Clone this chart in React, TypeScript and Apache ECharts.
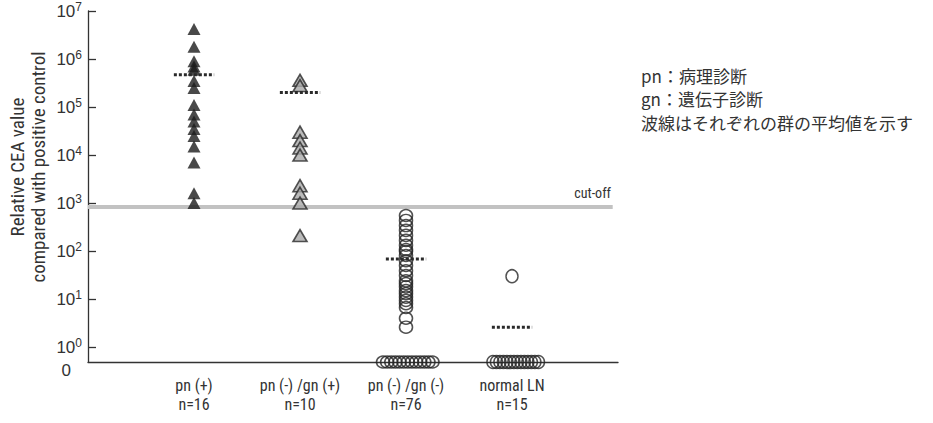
import React, { useEffect, useRef } from "react";
import * as echarts from "echarts";

// ---- data ----
const categories = ["pn (+)", "pn (-) /gn (+)", "pn (-) /gn (-)", "normal LN"];
const counts = ["n=16", "n=10", "n=76", "n=15"];

const pnPos = [4.2e6, 1.8e6, 9e5, 7e5, 6e5, 3.5e5, 2.5e5, 1.1e5, 7e4, 5e4, 3.5e4, 2.5e4, 1.5e4, 7e3, 1.6e3, 1.0e3];
const pnNegGnPos = [3.6e5, 2.8e5, 3e4, 2e4, 1.4e4, 1e4, 2.3e3, 1.6e3, 1.0e3, 2.1e2];
const pnNegGnNeg = [550, 435, 340, 270, 212, 167, 132, 108, 98, 81, 63, 50, 39, 31, 24, 21, 18, 15, 13, 11, 9.4, 8, 6.7, 4, 2.6];
const pnNegGnNegZeroJitter = [-0.217, -0.178, -0.139, -0.1, -0.061, -0.022, 0.017, 0.056, 0.095, 0.134, 0.173, 0.212, 0.25];
const normalLN = [30];
const normalLNZeroJitter = [-0.18, -0.147, -0.114, -0.081, -0.048, -0.015, 0.018, 0.051, 0.084, 0.117, 0.15, 0.183, 0.216, 0.25];
const groupMeans = [4.7e5, 2.0e5, 68, 2.6];
const cutOff = 830;
const yTickExponents = [0, 1, 2, 3, 4, 5, 6, 7];
const notes = ["pn：病理診断", "gn：遺伝子診断", "波線はそれぞれの群の平均値を示す"];

const ZERO_POS = -0.31; // where value 0 sits on the log scale
const toLog = (v: number) => (v > 0 ? Math.log10(v) : ZERO_POS);
const NARROW = "'Liberation Sans Narrow', 'Roboto Condensed', 'DejaVu Sans Condensed', 'Liberation Sans', sans-serif";
const SANS = "'Liberation Sans', Arial, sans-serif";
const CJK = "'Noto Sans CJK JP', sans-serif";

export default function App() {
  const ref = useRef<HTMLDivElement>(null);
  useEffect(() => {
    if (!ref.current) return;
    const chart = echarts.init(ref.current, undefined, { renderer: "svg" });
    const circleStyle = { color: "rgba(0,0,0,0)", borderColor: "#262626", borderWidth: 1.5 };
    const option: any = {
      animation: false,
      backgroundColor: "#fff",
      grid: { left: 88, right: 315, top: 11, bottom: 61 },
      xAxis: {
        type: "value",
        min: 0,
        max: 5,
        axisLine: { show: true, onZero: false, lineStyle: { color: "#333", width: 1.3 } },
        axisTick: { show: false },
        splitLine: { show: false },
        axisLabel: {
          customValues: [1, 2, 3, 4],
          formatter: (v: number) => `${categories[Math.round(v) - 1]}\n${counts[Math.round(v) - 1]}`,
          fontFamily: NARROW,
          fontSize: 16,
          lineHeight: 19,
          color: "#333",
          margin: 14,
        },
      },
      yAxis: {
        type: "value",
        min: ZERO_POS,
        max: 7,
        axisLine: { show: true, onZero: false, lineStyle: { color: "#333", width: 1.3 } },
        axisTick: { show: true, inside: true, length: 8, customValues: yTickExponents, lineStyle: { color: "#333", width: 1.3 } },
        splitLine: { show: false },
        axisLabel: {
          customValues: [ZERO_POS, ...yTickExponents],
          margin: 6,
          formatter: (v: number) => (v < -0.1 ? "{z|0}" : `{b|10}{s|${Math.round(v)}}`),
          rich: {
            b: { fontFamily: SANS, fontSize: 17, color: "#333", lineHeight: 21 },
            s: { fontFamily: SANS, fontSize: 12, color: "#333", lineHeight: 12, verticalAlign: "top" },
            z: { fontFamily: SANS, fontSize: 17, color: "#333", padding: [16, 11, 0, 0] },
          },
        },
      },
      series: [
        {
          type: "line",
          data: [[0, toLog(cutOff)], [4.95, toLog(cutOff)]],
          symbol: "none",
          lineStyle: { color: "#c2c2c2", width: 4 },
          z: 1,
          silent: true,
        },
        {
          type: "scatter",
          data: pnPos.map((v) => [1, toLog(v)]),
          symbol: "triangle",
          symbolSize: [13, 12],
          itemStyle: { color: "#1c1c1c" },
          z: 3,
        },
        {
          type: "scatter",
          data: pnNegGnPos.map((v) => [2, toLog(v)]),
          symbol: "triangle",
          symbolSize: [14, 12],
          itemStyle: { color: "#a9a9a9", borderColor: "#2a2a2a", borderWidth: 1.6 },
          z: 3,
        },
        {
          type: "scatter",
          data: [
            ...pnNegGnNeg.map((v) => [3, toLog(v)]),
            ...pnNegGnNegZeroJitter.map((d) => [3 + d, toLog(0)]),
          ],
          symbol: "circle",
          symbolSize: [13, 12],
          itemStyle: circleStyle,
          z: 3,
        },
        {
          type: "scatter",
          data: [
            ...normalLN.map((v) => [4, toLog(v)]),
            ...normalLNZeroJitter.map((d) => [4 + d, toLog(0)]),
          ],
          symbol: "circle",
          symbolSize: [12, 13],
          itemStyle: circleStyle,
          z: 3,
        },
        {
          type: "custom",
          data: groupMeans.map((m, i) => [i + 1, toLog(m)]),
          z: 4,
          renderItem: (params: any, api: any) => {
            const x = api.value(0);
            const y = api.value(1);
            const p1 = api.coord([x - 0.19, y]);
            const p2 = api.coord([x + 0.19, y]);
            return {
              type: "line",
              shape: { x1: p1[0], y1: p1[1], x2: p2[0], y2: p2[1] },
              style: { stroke: "#2a2a2a", lineWidth: 3, lineDash: [3, 2] },
            };
          },
        },
      ],
      graphic: [
        {
          type: "text",
          x: 28,
          y: 167,
          rotation: Math.PI / 2,
          style: {
            text: "Relative CEA value\ncompared with positive control",
            align: "center",
            verticalAlign: "middle",
            fontFamily: NARROW,
            fontSize: 19,
            lineHeight: 21,
            fill: "#333",
          },
        },
        {
          type: "text",
          x: 611,
          y: 193,
          style: { text: "cut-off", align: "right", verticalAlign: "middle", fontFamily: NARROW, fontSize: 14, fill: "#333" },
        },
        ...notes.map((t, i) => ({
          type: "text",
          x: 641,
          y: 75 + i * 23.5,
          style: { text: t, verticalAlign: "middle", fontFamily: CJK, fontSize: 17, fill: "#333" },
        })),
      ],
    };
    chart.setOption(option);
    return () => chart.dispose();
  }, []);
  return (
    <div
      ref={ref}
      style={{ position: "fixed", left: 0, top: 0, width: 933, height: 423, background: "#fff" }}
    />
  );
}
